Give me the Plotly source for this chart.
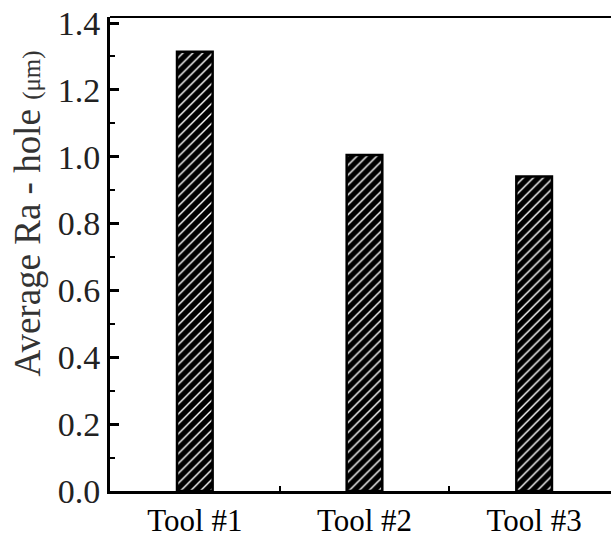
import plotly.graph_objects as go

# Average hole roughness per tool
tools = ["Tool #1", "Tool #2", "Tool #3"]
ra_hole = [1.314, 1.005, 0.941]
y_ticks = [0.0, 0.2, 0.4, 0.6, 0.8, 1.0, 1.2, 1.4]
y_labels = ["0.0", "0.2", "0.4", "0.6", "0.8", "1.0", "1.2", "1.4"]

serif = "Times New Roman, Liberation Serif, serif"

fig = go.Figure(
    go.Bar(
        x=tools,
        y=ra_hole,
        width=0.21,
        marker=dict(
            color="black",
            line=dict(color="black", width=2.5),
            pattern=dict(shape="/", fgcolor="white", bgcolor="black",
                         size=7, solidity=0.2, fillmode="replace"),
        ),
        showlegend=False,
    )
)

fig.update_layout(
    width=611,
    height=539,
    margin=dict(l=110, r=0, t=17, b=48),
    paper_bgcolor="white",
    plot_bgcolor="white",
    font=dict(family=serif, color="black", size=30),
)
fig.update_xaxes(
    type="category",
    range=[-0.5, 2.453],
    showline=True,
    linecolor="black",
    linewidth=3,
    ticks="inside",
    tickson="boundaries",
    ticklen=5,
    tickwidth=2,
    tickcolor="black",
    tickfont=dict(family=serif, size=31, color="black"),
    showgrid=False,
    zeroline=False,
)
fig.update_yaxes(
    range=[0, 1.418],
    tickmode="array",
    tickvals=y_ticks,
    ticktext=y_labels,
    showline=True,
    linecolor="black",
    linewidth=3,
    ticks="inside",
    ticklen=9,
    tickwidth=3,
    tickcolor="black",
    tickfont=dict(family=serif, size=34, color="#222222"),
    minor=dict(dtick=0.1, tick0=0, ticks="inside", ticklen=5,
               tickwidth=2, tickcolor="black", showgrid=False),
    showgrid=False,
    zeroline=False,
)
fig.add_shape(type="line", xref="paper", yref="paper", x0=0, x1=1, y0=1, y1=1,
              line=dict(color="black", width=1.8))
fig.add_annotation(
    text='Average Ra - hole <span style="font-size:25px">(\u03bcm)</span>',
    textangle=-90,
    xref="paper", yref="paper",
    x=-0.164, y=0.585,
    xanchor="center", yanchor="middle",
    showarrow=False,
    font=dict(family=serif, size=37, color="#333333"),
)

fig.write_html("out.html")
